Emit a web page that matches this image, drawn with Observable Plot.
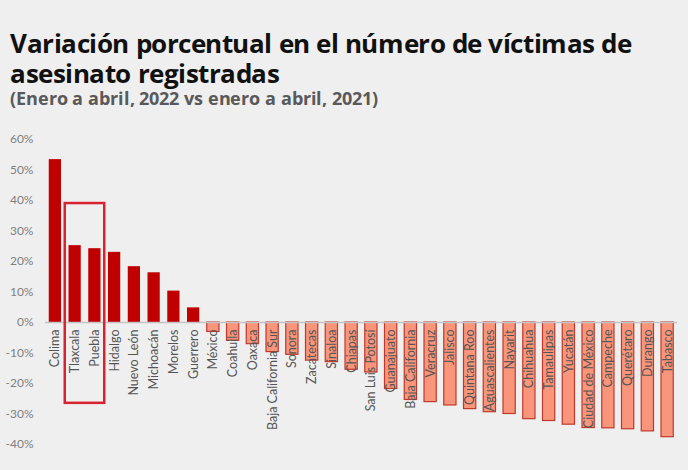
<!DOCTYPE html>
<html><head><meta charset="utf-8">
<script src="https://cdn.jsdelivr.net/npm/d3@7"></script>
<script src="https://cdn.jsdelivr.net/npm/@observablehq/plot@0.6"></script>
<style>
@font-face{font-family:"TitleOS";src:local("Open Sans Bold"),local("OpenSans-Bold"),local("Open Sans");font-weight:700;ascent-override:88%;descent-override:20%;line-gap-override:0%}
html,body{margin:0;padding:0}
body{background:#efefef;width:688px;height:470px;overflow:hidden;position:relative}
.t{position:absolute;left:10px;font:bold 26px/30px "TitleOS","Open Sans",sans-serif;color:#111;letter-spacing:-0.45px;white-space:nowrap}
#s{position:absolute;left:10px;top:89px;font:bold 18px/20px "TitleOS","Open Sans",sans-serif;color:#595959;letter-spacing:-0.1px;white-space:nowrap}
#c{position:absolute;left:0;top:125px}
</style></head><body>
<div class="t" style="top:29px">Variación porcentual en el número de víctimas de</div>
<div class="t" style="top:59px">asesinato registradas</div>
<div id="s">(Enero a abril, 2022 vs enero a abril, 2021)</div>
<div id="c"></div>
<script>
const states = ["Colima","Tlaxcala","Puebla","Hidalgo","Nuevo León","Michoacán","Morelos","Guerrero","México","Coahuila","Oaxaca","Baja California Sur","Sonora","Zacatecas","Sinaloa","Chiapas","San Luis Potosí","Guanajuato","Baja California","Veracruz","Jalisco","Quintana Roo","Aguascalientes","Nayarit","Chihuahua","Tamaulipas","Yucatán","Ciudad de México","Campeche","Querétaro","Durango","Tabasco"];
const values = [53.4,25.2,24.2,23.0,18.3,16.3,10.3,4.8,-3.1,-6.0,-7.1,-9.7,-10.6,-12.5,-13.0,-15.5,-16.4,-21.8,-25.4,-26.1,-27.2,-28.4,-29.4,-30.0,-31.7,-32.3,-33.5,-34.6,-34.7,-35.0,-35.7,-37.6];
const yTicks = [60,50,40,30,20,10,0,-10,-20,-30,-40];
const boxStates = ["Tlaxcala","Puebla"];
const boxRange = [39,-26.5];

const data = states.map((s,i)=>({s,i,v:values[i]}));
const pos = data.filter(d=>d.v>=0), neg = data.filter(d=>d.v<0);
const bi = boxStates.map(s=>states.indexOf(s));
const box = [{x1:Math.min(...bi)-0.5,x2:Math.max(...bi)+0.5,y1:boxRange[1],y2:boxRange[0]}];
const hw = 0.31;

const chart = Plot.plot({
  width:688,height:330,marginLeft:45,marginRight:11,marginTop:14,marginBottom:11,
  x:{domain:[-0.5,31.5],axis:null},
  y:{domain:[-40,60],ticks:yTicks,tickFormat:d=>d+"%",tickSize:0,tickPadding:12,label:null},
  style:{background:"transparent",fontFamily:"Lato, sans-serif",fontSize:"12px",color:"#7f7f7f"},
  marks:[
    Plot.rectY(pos,{x1:d=>d.i-hw,x2:d=>d.i+hw,y1:0,y2:"v",fill:"#C00000"}),
    Plot.rectY(neg,{x1:d=>d.i-hw,x2:d=>d.i+hw,y1:0,y2:"v",fill:"#F9957B",stroke:"#C0392B",strokeWidth:1.2}),
    Plot.ruleY([0],{stroke:"#c4c4c4",strokeWidth:1.5}),
    Plot.text(data,{x:"i",y:0,text:"s",rotate:-90,textAnchor:"end",dy:7,fill:"#555555",fontSize:12.5,fontFamily:"Lato, sans-serif"}),
    Plot.rect(box,{x1:"x1",x2:"x2",y1:"y1",y2:"y2",fill:"none",stroke:"#D7232F",strokeWidth:2.5})
  ]
});
document.getElementById("c").appendChild(chart);
</script>
</body></html>
